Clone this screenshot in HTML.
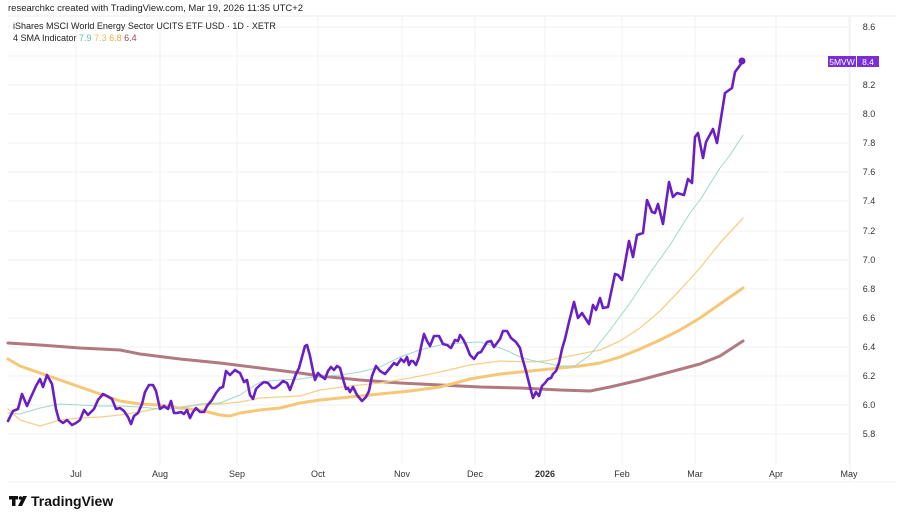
<!DOCTYPE html>
<html><head><meta charset="utf-8"><style>
body{margin:0;background:#fff;width:904px;height:511px;overflow:hidden;font-family:"Liberation Sans",sans-serif}
</style></head><body>
<svg width="904" height="511" viewBox="0 0 904 511" xmlns="http://www.w3.org/2000/svg" font-family="Liberation Sans, sans-serif">
<rect width="904" height="511" fill="#fff"/>
<text x="8" y="11" font-size="9.5" fill="#222">researchkc created with TradingView.com, Mar 19, 2026 11:35 UTC+2</text>
<line x1="8" y1="16" x2="896" y2="16" stroke="#eee"/>
<line x1="8" y1="482" x2="896" y2="482" stroke="#f0f0f0"/>
<line x1="850" y1="16" x2="850" y2="482" stroke="#f2f2f2"/>
<g stroke="#f2f2f2" stroke-width="1">
<line x1="8" y1="27" x2="850" y2="27"/><line x1="8" y1="56" x2="850" y2="56"/><line x1="8" y1="85" x2="850" y2="85"/><line x1="8" y1="114" x2="850" y2="114"/><line x1="8" y1="143" x2="850" y2="143"/><line x1="8" y1="172" x2="850" y2="172"/><line x1="8" y1="201" x2="850" y2="201"/><line x1="8" y1="231" x2="850" y2="231"/><line x1="8" y1="260" x2="850" y2="260"/><line x1="8" y1="289" x2="850" y2="289"/><line x1="8" y1="318" x2="850" y2="318"/><line x1="8" y1="347" x2="850" y2="347"/><line x1="8" y1="376" x2="850" y2="376"/><line x1="8" y1="405" x2="850" y2="405"/><line x1="8" y1="434" x2="850" y2="434"/>
<line x1="76" y1="16" x2="76" y2="465"/><line x1="160" y1="16" x2="160" y2="465"/><line x1="237" y1="16" x2="237" y2="465"/><line x1="318" y1="16" x2="318" y2="465"/><line x1="402" y1="16" x2="402" y2="465"/><line x1="475" y1="16" x2="475" y2="465"/><line x1="545" y1="16" x2="545" y2="465"/><line x1="622" y1="16" x2="622" y2="465"/><line x1="695" y1="16" x2="695" y2="465"/><line x1="776" y1="16" x2="776" y2="465"/><line x1="849" y1="16" x2="849" y2="465"/>
</g>
<g font-size="9" fill="#333" text-anchor="middle">
<text x="869" y="30">8.6</text><text x="869" y="88">8.2</text><text x="869" y="117">8.0</text><text x="869" y="146">7.8</text><text x="869" y="175">7.6</text><text x="869" y="204">7.4</text><text x="869" y="234">7.2</text><text x="869" y="263">7.0</text><text x="869" y="292">6.8</text><text x="869" y="321">6.6</text><text x="869" y="350">6.4</text><text x="869" y="379">6.2</text><text x="869" y="408">6.0</text><text x="869" y="437">5.8</text>
<text x="76" y="477">Jul</text><text x="160" y="477">Aug</text><text x="237" y="477">Sep</text><text x="318" y="477">Oct</text><text x="402" y="477">Nov</text><text x="475" y="477">Dec</text><text x="545" y="477" font-weight="bold">2026</text><text x="622" y="477">Feb</text><text x="695" y="477">Mar</text><text x="776" y="477">Apr</text><text x="849" y="477">May</text>
</g>
<text x="13" y="29" font-size="9" fill="#222">iShares MSCI World Energy Sector UCITS ETF USD · 1D · XETR</text>
<text x="13" y="41" font-size="9" fill="#222">4 SMA Indicator <tspan fill="#5bbfa8">7.9</tspan> <tspan fill="#f0b860">7.3</tspan> <tspan fill="#f0a830">6.8</tspan> <tspan fill="#a04848">6.4</tspan></text>
<g fill="none" stroke-linejoin="round" stroke-linecap="round">
<polyline stroke="#b07a80" stroke-width="3" points="8,343 40,345 80,348 120,350 140,354 180,359 220,363 260,368 300,373 320,376 360,380 400,383 440,385 480,387 520,388 560,390 590,391 610,387 640,380 670,372 700,364 720,356 743,341"/>
<polyline stroke="#f5c776" stroke-width="3" points="8,359 20,366 40,373 60,380 80,387 100,394 120,401 140,404 160,405 180,408 200,410 220,415 230,416 240,413 260,410 280,408 300,403 320,400 350,397 380,394 410,391 440,387 470,379 500,374 530,371 560,368 580,366 600,363 620,357 640,349 660,340 680,330 700,318 720,304 743,288"/>
<polyline stroke="#f7cf8a" stroke-width="1.3" points="8,409 20,420 40,426 60,420 80,418 100,417 120,415 140,412 160,408 180,407 200,405 220,404 240,402 260,398 280,397 300,396 320,390 350,386 380,383 410,378 440,372 470,365 500,361 530,362 545,361 560,358 580,354 600,350 620,341 640,328 660,311 680,290 700,268 720,243 743,218"/>
<polyline stroke="#9fd8c8" stroke-width="1" points="8,413 20,414 40,408 60,404 80,405 100,406 120,406 140,407 160,409 180,408 200,404 220,403 240,395 260,382 280,380 300,379 320,376 340,375 360,372 380,367 400,357 420,350 440,345 460,343 480,342 490,345 500,348 510,352 520,357 530,360 545,363 560,366 575,366 590,355 610,330 630,303 650,273 670,245 690,213 700,200 720,168 730,155 743,135"/>
<polyline stroke="#6a1fc2" stroke-width="2.6" points="8,421 13,411 18,409 22,394 27,406 31,397 36,386 40,379 43,387 47,375 52,384 56,409 59,420 63,423 67,420 72,425 76,423 80,420 84,410 88,415 94,409 98,400 103,394 107,396 112,399 116,409 120,408 124,411 128,417 131,424 134,416 138,413 142,404 145,392 149,385 153,385 156,391 160,409 164,406 168,409 171,401 174,413 177,413 181,412 184,414 187,410 190,418 193,412 196,408 200,412 204,412 207,406 212,400 216,393 220,388 223,387 226,371 230,375 235,370 238,372 240,373 244,382 247,380 250,395 253,399 256,389 260,385 264,382 268,383 272,388 275,388 279,385 283,381 287,383 290,390 296,374 299,368 305,346 307,345 310,356 313,371 315,380 318,373 321,376 325,379 328,371 331,367 334,370 337,366 340,368 343,379 346,389 348,388 350,392 353,387 357,395 362,401 366,397 369,391 372,376 376,366 380,371 385,374 390,368 394,363 397,365 401,359 404,362 407,357 409,365 411,361 413,361 416,365 419,357 421,347 424,334 427,341 430,346 434,336 439,336 443,344 447,345 451,348 455,340 458,341 460,335 463,339 466,345 470,355 474,359 478,353 481,352 484,347 487,342 491,341 494,347 497,343 500,339 503,331 507,331 511,338 516,342 520,348 522,357 526,371 530,387 533,398 536,392 539,396 542,386 545,383 548,379 551,378 553,374 556,371 559,363 562,349 565,339 569,322 574,302 578,318 582,313 589,324 593,305 596,310 600,298 603,308 608,307 615,274 618,275 622,280 629,241 633,257 637,235 643,233 647,200 652,212 655,213 658,204 663,224 669,182 673,197 677,193 684,195 688,179 692,183 695,137 698,133 703,158 706,142 713,129 717,143 725,93 732,88 735,72 738,68 743,61"/>
</g>
<circle cx="742" cy="61" r="3.5" fill="#6a1fc2"/>
<rect x="828" y="56" width="28" height="11" fill="#7a2ed6"/>
<rect x="857" y="56" width="22" height="11" fill="#7a2ed6"/>
<text x="842" y="65" font-size="8.5" fill="#fff" text-anchor="middle">5MVW</text>
<text x="868" y="65" font-size="8.5" fill="#fff" text-anchor="middle">8.4</text>
<g fill="#111">
<rect x="9" y="496" width="9" height="3.5"/><rect x="12" y="496" width="3.5" height="10"/>
<circle cx="20.5" cy="498" r="1.8"/><polygon points="23,496 27,496 22,506 18,506"/>
</g>
<text x="31" y="506" font-size="14" font-weight="bold" fill="#111">TradingView</text>
</svg>
</body></html>
